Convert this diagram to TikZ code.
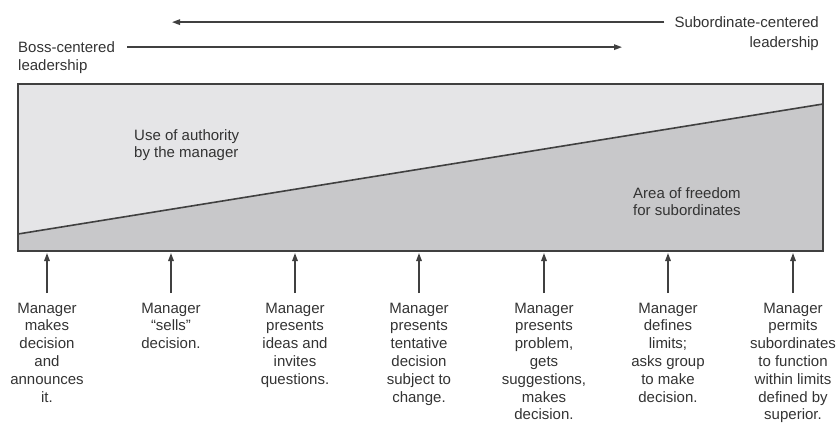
\documentclass[tikz,border=0pt]{standalone}
\usepackage{fontspec}
\setmainfont{Liberation Sans}
\usetikzlibrary{arrows.meta}
\definecolor{ink}{HTML}{333333}
\definecolor{lightf}{HTML}{E5E5E7}
\definecolor{darkf}{HTML}{C8C8CA}
\definecolor{edge}{HTML}{404040}
\begin{document}
\begin{tikzpicture}[x=1pt,y=-1pt,
  txt/.style={font=\fontsize{15}{17.8}\selectfont, text=ink, inner sep=0pt},
  lab/.style={txt, align=center, anchor=north},
  conn/.style={draw=edge, line width=1.5pt, -{Triangle[length=8pt,width=5.5pt]}}]
\useasboundingbox (0,0) rectangle (838,424);
\coordinate (tl) at (18,84);
\coordinate (tr) at (823,84);
\coordinate (br) at (823,251);
\coordinate (bl) at (18,251);
\coordinate (ls) at (18,234);
\coordinate (rs) at (823,104);
\fill[lightf] (tl) -- (tr) -- (rs) -- (ls) -- cycle;
\fill[darkf] (ls) -- (rs) -- (br) -- (bl) -- cycle;
\draw[edge, line width=1.6pt] (ls) -- (rs);
\draw[edge, line width=1.8pt] (tl) rectangle (br);

\node[txt, align=left, anchor=north west] (auth) at (134,129) {Use of authority\\by the manager};
\node[txt, align=left, anchor=north west] (free) at (633,187) {Area of freedom\\for subordinates};

\node[txt, anchor=base west] (bossa) at (18,52.5) {Boss-centered};
\node[txt, anchor=base west] (bossb) at (18,70.5) {leadership};
\node[txt, anchor=base east] (suba) at (819,27.5) {Subordinate-centered};
\node[txt, anchor=base east] (subb) at (819,47.5) {leadership};
\coordinate (bossend) at (622,47);
\coordinate (subend) at (172,22);
\draw[conn] ([xshift=12pt]bossa.east) -- (bossend |- bossa.east);
\draw[conn] ([xshift=-10pt]suba.west) -- (subend |- suba.west);

\node[lab] (m1) at (47,302.5) {Manager\\makes\\decision\\and\\announces\\it.};
\node[lab] (m2) at (171,302.5) {Manager\\“sells”\\decision.};
\node[lab] (m3) at (295,302.5) {Manager\\presents\\ideas and\\invites\\questions.};
\node[lab] (m4) at (419,302.5) {Manager\\presents\\tentative\\decision\\subject to\\change.};
\node[lab] (m5) at (544,302.5) {Manager\\presents\\problem,\\gets\\suggestions,\\makes\\decision.};
\node[lab] (m6) at (668,302.5) {Manager\\defines\\limits;\\asks group\\to make\\decision.};
\node[lab] (m7) at (793,302.5) {Manager\\permits\\subordinates\\to function\\within limits\\defined by\\superior.};
\foreach \m in {m1,m2,m3,m4,m5,m6,m7}
  \draw[conn] ([yshift=9.5pt]\m.north) -- ([yshift=-2pt]\m.north |- bl);
\end{tikzpicture}
\end{document}
